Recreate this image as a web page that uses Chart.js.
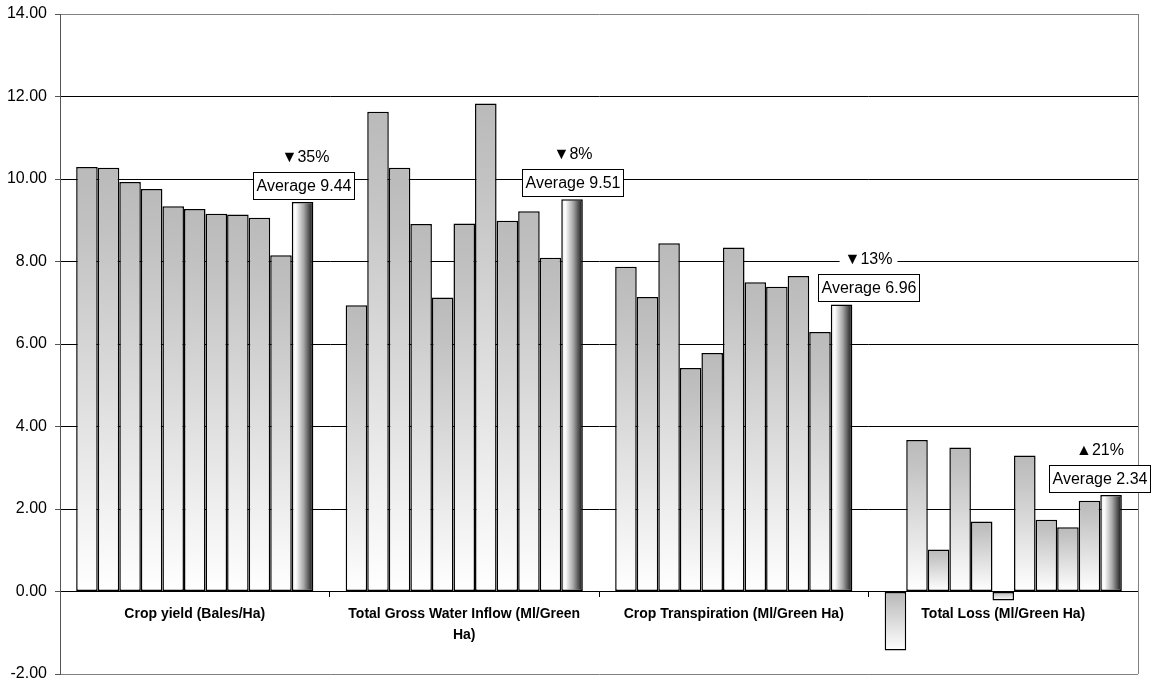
<!DOCTYPE html>
<html>
<head>
<meta charset="utf-8">
<script src="https://cdn.jsdelivr.net/npm/chart.js@4.4.1/dist/chart.umd.min.js"></script>
<style>
  html, body { margin: 0; padding: 0; background: #fff; }
  #wrap { width: 1157px; height: 682px; position: relative; }
</style>
</head>
<body>
<div id="wrap"><canvas id="c"></canvas></div>
<script>
// Water-use indicators for ten farms plus the weighted average
const categories = [
  'Crop yield (Bales/Ha)',
  ['Total Gross Water Inflow (Ml/Green', 'Ha)'],
  'Crop Transpiration (Ml/Green Ha)',
  'Total Loss (Ml/Green Ha)'
];
const cropYield     = [10.29, 10.27, 9.93, 9.76, 9.34, 9.27, 9.16, 9.14, 9.06, 8.15];
const grossInflow   = [6.94, 11.63, 10.27, 8.91, 7.13, 8.92, 11.83, 8.99, 9.22, 8.09];
const transpiration = [7.87, 7.14, 8.44, 5.42, 5.78, 8.34, 7.50, 7.39, 7.65, 6.29];
const totalLoss     = [-1.43, 3.67, 1.02, 3.49, 1.70, -0.22, 3.30, 1.74, 1.56, 2.20];
const averages      = [9.44, 9.51, 6.96, 2.34];
const changes       = ['\u25BC35%', '\u25BC8%', '\u25BC13%', '\u25B221%'];
const yMin = -2, yMax = 14, yStep = 2;

const FONT = '"Liberation Sans", Arial, Helvetica, sans-serif';

const datasets = cropYield.map((_, i) => ({
  label: 'Farm ' + (i + 1),
  data: [cropYield[i], grossInflow[i], transpiration[i], totalLoss[i]],
  kind: 'farm'
}));
datasets.push({ label: 'Average', data: averages.slice(), kind: 'avg' });
datasets.forEach(d => {
  d.backgroundColor = () => '#c8c8c8';
  d.borderColor = '#000';
  d.borderWidth = 1.5;
  d.borderSkipped = false;
  d.categoryPercentage = 0.88;
  d.barPercentage = 1.0;
});

// Per-bar shading: vertical grey-to-white for farms, sideways sheen for the average
const shading = {
  id: 'shading',
  beforeDatasetsDraw(chart) {
    const ctx = chart.ctx;
    chart.data.datasets.forEach((ds, di) => {
      const meta = chart.getDatasetMeta(di);
      meta.data.forEach(el => {
        const top = Math.min(el.y, el.base), bot = Math.max(el.y, el.base);
        let g;
        if (ds.kind === 'avg') {
          const l = el.x - el.width / 2, r = el.x + el.width / 2;
          g = ctx.createLinearGradient(l, 0, r, 0);
          g.addColorStop(0, '#e4e4e4');
          g.addColorStop(0.18, '#ffffff');
          g.addColorStop(0.55, '#a8a8a8');
          g.addColorStop(0.88, '#383838');
          g.addColorStop(1, '#101010');
        } else {
          g = ctx.createLinearGradient(0, top, 0, bot);
          g.addColorStop(0, '#bababa');
          g.addColorStop(0.15, '#c2c2c2');
          g.addColorStop(1, '#ffffff');
        }
        el.options.backgroundColor = g;
      });
    });
    // right frame line of the plot
    const a = chart.chartArea;
    ctx.save();
    ctx.strokeStyle = '#808080';
    ctx.lineWidth = 1;
    ctx.beginPath();
    ctx.moveTo(Math.round(a.right) + 0.5, a.top);
    ctx.lineTo(Math.round(a.right) + 0.5, a.bottom);
    ctx.stroke();
    ctx.restore();
  }
};

// "Average" call-outs and change markers above the average bars
const callouts = {
  id: 'callouts',
  afterDraw(chart) {
    const ctx = chart.ctx;
    const shift = [
      { box: 1, pct: 3 },
      { box: 0, pct: 1 },
      { box: 27, pct: 27 },
      { box: -12, pct: -11 }
    ];
    const meta = chart.getDatasetMeta(chart.data.datasets.length - 1);
    ctx.save();
    ctx.font = '16px ' + FONT;
    ctx.textAlign = 'center';
    ctx.textBaseline = 'middle';
    meta.data.forEach((el, i) => {
      const s = shift[i];
      const text = 'Average ' + averages[i].toFixed(2);
      const tw = ctx.measureText(text).width;
      const bw = Math.round(tw + 6), bh = 27;
      const cx = el.x + s.box;
      const bottom = Math.min(el.y, el.base) - 3;
      const left = Math.round(cx - bw / 2), top = Math.round(bottom - bh);
      ctx.fillStyle = '#fff';
      ctx.fillRect(left, top, bw, bh);
      ctx.strokeStyle = '#000';
      ctx.lineWidth = 1;
      ctx.strokeRect(left + 0.5, top + 0.5, bw, bh);
      ctx.fillStyle = '#000';
      ctx.fillText(text, left + bw / 2 + 0.5, top + bh / 2 + 1);

      const px = el.x + s.pct, py = top - 14;
      const pw = ctx.measureText(changes[i]).width + 10;
      ctx.fillStyle = '#fff';
      ctx.fillRect(px - pw / 2, py - 9, pw, 18);
      ctx.fillStyle = '#000';
      ctx.fillText(changes[i], px, py);
    });
    ctx.restore();
  }
};

new Chart(document.getElementById('c'), {
  type: 'bar',
  data: { labels: categories, datasets },
  plugins: [shading, callouts],
  options: {
    responsive: true,
    maintainAspectRatio: false,
    animation: false,
    layout: { padding: { top: 14, right: 19, bottom: 8, left: 0 } },
    plugins: { legend: { display: false }, tooltip: { enabled: false } },
    scales: {
      x: {
        position: { y: 0 },
        grid: { drawOnChartArea: false, drawTicks: true, tickLength: 5, color: '#000', offset: true },
        border: { display: true, color: '#000', width: 1 },
        ticks: {
          color: '#000',
          font: { family: FONT, size: 14, weight: 'bold', lineHeight: 1.5 },
          padding: 7,
          maxRotation: 0,
          autoSkip: false
        }
      },
      y: {
        min: yMin,
        max: yMax,
        afterFit(scale) {
          scale.width = 60;
          scale.paddingTop = 0;
          scale.paddingBottom = 0;
        },
        grid: {
          color: c => (c.tick && (c.tick.value === yMin || c.tick.value === yMax)) ? '#808080' : '#000',
          tickColor: '#555',
          tickLength: 5,
          lineWidth: 1
        },
        border: { display: true, color: '#555', width: 1 },
        ticks: {
          stepSize: yStep,
          color: '#000',
          padding: 8,
          font: { family: FONT, size: 16 },
          callback: v => Number(v).toFixed(2)
        }
      }
    }
  }
});
</script>
</body>
</html>
